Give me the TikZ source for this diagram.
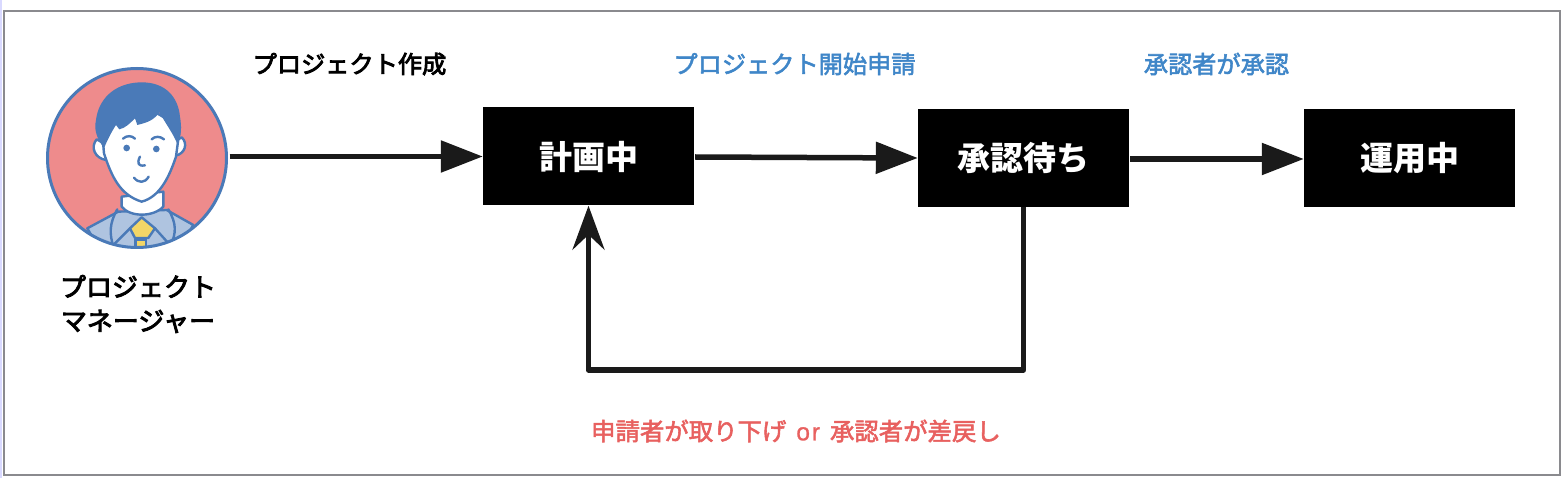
\documentclass[tikz,border=0pt]{standalone}
\usepackage{fontspec}
\setmainfont{Noto Sans CJK JP}
\newfontfamily\cjkmed{Noto Sans CJK JP}[FakeBold=2.2]
\newfontfamily\cjkblack{Noto Sans CJK JP}[FakeBold=3.5]
\newfontfamily\latinmed{Liberation Sans}[FakeBold=1,LetterSpace=8]
\usetikzlibrary{arrows.meta}
\definecolor{avblue}{HTML}{4A7AB8}
\definecolor{avpink}{HTML}{EE8B8C}
\definecolor{avsuit}{HTML}{AFC4E0}
\definecolor{avtie}{HTML}{F3D667}
\definecolor{labblue}{HTML}{3F86C8}
\definecolor{labred}{HTML}{E8605F}
\definecolor{framegray}{HTML}{8A8A8E}
\definecolor{arrowblack}{HTML}{1A1A1A}
\tikzset{
  x=1pt,y=-1pt,
  statebox/.style={fill=black,draw=none,minimum width=211pt,minimum height=98pt,inner sep=0pt,text=white,font=\fontsize{33}{33}\selectfont\bfseries},
  flow/.style={draw=arrowblack,line width=5.5pt,-{Triangle[length=42pt,width=31pt,fill=arrowblack]}},
  backflow/.style={draw=arrowblack,line width=5.5pt,line join=round,-{Stealth[length=44pt,width=32pt,inset=15pt]}},
  lab/.style={font=\fontsize{24.2}{24}\cjkmed,inner sep=0pt},
  avline/.style={draw=avblue,line width=2.4pt,line join=round,line cap=round}
}
\begin{document}
\begin{tikzpicture}
\useasboundingbox (0,0) rectangle (1564,478);
\fill[white] (0,0) rectangle (1564,478);
\fill[blue!15] (0,0) rectangle (1.5,478);
\draw[framegray,line width=2pt] (3.5,11) -- (1560,11) -- (1560,475) -- (3.5,475) -- cycle;

% avatar, drawn in units of a 3x crop
\node[circle,minimum size=179pt,inner sep=0pt,draw=none] (person) at (137,158) {};
\begin{scope}
\clip (137,158) circle (89.5);
\fill[avpink] (137,158) circle (89.5);
\begin{scope}[shift={(30,60)},x=0.3333pt,y=-0.3333pt]
  % suit
  \path[fill=avsuit,avline] (172,505) -- (265,455) -- (410,450) -- (490,495) -- (440,580) -- (215,580) -- cycle;
  \draw[avline] (262,448) .. controls (238,490) and (238,520) .. (250,560);
  \draw[avline] (415,448) .. controls (440,490) and (440,520) .. (420,560);
  \draw[avline] (300,505) -- (250,555);
  \draw[avline] (375,505) -- (420,555);
  % neck
  \path[fill=white,avline] (275,410) -- (275,440) .. controls (300,472) and (370,472) .. (400,440) -- (400,395) -- cycle;
  % tie
  \path[fill=avtie,avline] (335,472) -- (375,505) -- (355,534) -- (315,534) -- (300,505) -- cycle;
  \path[fill=avtie,avline] (316,538) rectangle (348,562);
  % ears
  \path[fill=white,avline] (200,238) .. controls (180,262) and (195,295) .. (228,300) -- (240,260) -- cycle;
  \path[fill=white,avline] (455,232) .. controls (475,250) and (465,282) .. (436,287) -- (425,250) -- cycle;
  % face
  \path[fill=white,avline] (215,200) -- (222,280) .. controls (245,350) and (270,405) .. (335,425) .. controls (385,412) and (415,360) .. (438,290) -- (450,200) -- (330,130) -- cycle;
  % hair
  \path[fill=avblue] (222,265) .. controls (205,240) and (190,215) .. (198,180) .. controls (205,120) and (250,70) .. (330,67) .. controls (410,65) and (445,115) .. (450,170) .. controls (455,200) and (455,230) .. (442,252) .. controls (432,225) and (410,195) .. (388,157) .. controls (370,185) and (340,190) .. (322,195) -- (315,175) .. controls (300,190) and (285,205) .. (268,208) -- (258,195) .. controls (245,215) and (232,240) .. (222,265) -- cycle;
  % features
  \fill[avblue] (290,264) circle (10);
  \fill[avblue] (379,267) circle (10);
  \draw[avline] (279,236) .. controls (290,226) and (305,226) .. (315,236);
  \draw[avline] (365,238) .. controls (375,228) and (390,228) .. (402,238);
  \draw[avline] (330,290) .. controls (320,310) and (325,320) .. (345,316);
  \draw[avline] (312,353) .. controls (325,370) and (345,370) .. (356,350);
\end{scope}
\end{scope}
\draw[avblue,line width=3pt] (137,158) circle (89.5);

\node[inner sep=0pt,align=center,font=\fontsize{26}{34}\cjkblack\selectfont] (pmname) at (138,304) {プロジェクト\\マネージャー};

\node[statebox] (plan) at (588.5,156.5) {計画中};
\node[statebox] (wait) at (1023.5,158) {承認待ち};
\node[statebox] (run) at (1409.5,158) {運用中};
\coordinate (loop) at (800,370);

\draw[flow] ([xshift=3pt,yshift=1.5pt]person.east) -- (plan.west);
\draw[flow] ([xshift=1pt,yshift=-0.5pt]plan.east) -- (wait.west);
\draw[flow] ([xshift=1pt,yshift=-1pt]wait.east) -- ([yshift=-1pt]run.west);
\draw[backflow] (wait.south) |- (loop) -| (plan.south);

\node[lab,font=\fontsize{24.2}{24}\cjkblack\selectfont] (l1) at (349.5,64) {プロジェクト作成};
\node[lab,text=labblue] (l2) at (794.5,64) {プロジェクト開始申請};
\node[lab,text=labblue] (l3) at (1216.5,64) {承認者が承認};
\node[lab,text=labred,font=\fontsize{24.4}{24}\cjkmed\selectfont] (l4) at (796,431) {申請者が取り下げ\hspace*{10pt}{\latinmed or}\hspace*{10pt}承認者が差戻し};
\end{tikzpicture}
\end{document}
